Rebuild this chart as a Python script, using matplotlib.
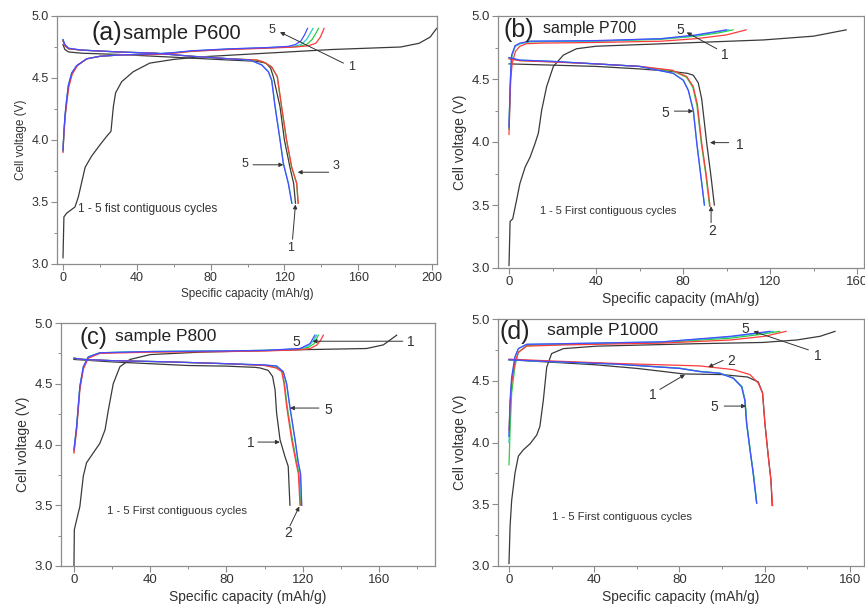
import matplotlib
matplotlib.use("Agg")
import matplotlib.pyplot as plt
from matplotlib.ticker import MultipleLocator

plt.rcParams['font.family'] = ['Liberation Sans', 'DejaVu Sans']

# ---- P600: (capacity mAh/g, voltage V) ----
p600_chg1 = [(0, 3.05), (0.5, 3.38), (2, 3.41), (6.5, 3.46), (8.3, 3.54), (12, 3.78), (15.5, 3.87),
             (20, 3.96), (23.7, 4.03), (26, 4.07), (27.3, 4.27), (28.5, 4.38), (31.8, 4.47), (38, 4.55),
             (47, 4.62), (60, 4.65), (74, 4.67), (110, 4.70), (146, 4.73), (183, 4.75), (193, 4.78),
             (199, 4.83), (202.5, 4.90)]
p600_chg2 = [(0, 3.90), (0.5, 4.05), (1.2, 4.19), (2.2, 4.32), (3.2, 4.43), (5, 4.53), (7.8, 4.60),
             (13, 4.655), (20, 4.675), (30, 4.685), (50, 4.69), (60, 4.70), (70, 4.715), (90, 4.73),
             (110, 4.74), (126, 4.75), (133, 4.76), (137, 4.78), (139.5, 4.83), (141.5, 4.90)]
p600_chg3 = [(0, 3.91), (0.5, 4.06), (1.2, 4.20), (2.1, 4.33), (3, 4.44), (4.8, 4.54), (7.6, 4.60),
             (13, 4.655), (20, 4.675), (30, 4.685), (50, 4.692), (60, 4.702), (70, 4.717), (90, 4.732),
             (110, 4.742), (128, 4.755), (132, 4.77), (135, 4.81), (137, 4.86), (138.5, 4.90)]
p600_chg4 = [(0, 3.91), (0.5, 4.06), (1.1, 4.20), (2, 4.33), (2.9, 4.44), (4.7, 4.54), (7.5, 4.60),
             (13, 4.655), (20, 4.675), (30, 4.685), (50, 4.694), (60, 4.704), (70, 4.718), (90, 4.734),
             (110, 4.744), (125, 4.755), (129, 4.77), (132, 4.81), (134, 4.86), (135.5, 4.90)]
p600_chg5 = [(0, 3.92), (0.5, 4.07), (1.1, 4.20), (2, 4.33), (2.9, 4.44), (4.7, 4.54), (7.4, 4.60),
             (12.8, 4.655), (20, 4.675), (30, 4.685), (50, 4.695), (60, 4.705), (70, 4.72), (90, 4.735),
             (110, 4.745), (122, 4.755), (126, 4.77), (129, 4.80), (131, 4.85), (132.5, 4.90)]
p600_dis1 = [(0, 4.77), (1, 4.73), (3, 4.71), (10, 4.70), (30, 4.69), (50, 4.675), (70, 4.66),
             (90, 4.645), (105, 4.635), (110, 4.62), (112.5, 4.58), (114, 4.51), (117.6, 4.27),
             (120, 4.0), (123, 3.78), (125, 3.65), (126, 3.49)]
p600_dis2 = [(0, 4.80), (1, 4.76), (3, 4.735), (10, 4.725), (30, 4.71), (50, 4.70), (70, 4.675),
             (90, 4.655), (105, 4.645), (108.6, 4.63), (113.1, 4.59), (116.2, 4.51), (118.5, 4.27),
             (121.2, 4.0), (124, 3.78), (126.7, 3.65), (127.5, 3.49)]
p600_dis3 = [(0, 4.80), (1, 4.76), (3, 4.735), (10, 4.725), (30, 4.71), (50, 4.70), (70, 4.675),
             (90, 4.655), (105, 4.645), (108.5, 4.63), (113, 4.59), (116.1, 4.51), (118.4, 4.27),
             (121.1, 4.0), (123.9, 3.78), (126.6, 3.65), (127.4, 3.49)]
p600_dis4 = [(0, 4.81), (1, 4.77), (3, 4.74), (10, 4.725), (30, 4.71), (50, 4.70), (70, 4.675),
             (90, 4.655), (101.5, 4.645), (107.8, 4.605), (111.4, 4.55), (113.2, 4.48), (115, 4.27),
             (117.7, 4.0), (119.5, 3.81), (122.2, 3.65), (124.1, 3.49)]
p600_dis5 = [(0, 4.81), (1, 4.77), (3, 4.74), (10, 4.725), (30, 4.71), (50, 4.70), (70, 4.675),
             (90, 4.655), (101.4, 4.645), (107.7, 4.605), (111.3, 4.55), (113.1, 4.48), (114.9, 4.27),
             (117.6, 4.0), (119.4, 3.81), (122.1, 3.65), (124, 3.49)]

# ---- P700 ----
p700_chg1 = [(0, 3.02), (0.5, 3.37), (1.7, 3.39), (3.5, 3.54), (5, 3.67), (7.4, 3.80), (9.7, 3.88),
             (12, 3.99), (13.5, 4.07), (15, 4.25), (17.3, 4.44), (20.4, 4.60), (25, 4.69), (31, 4.74),
             (40, 4.76), (71, 4.78), (117, 4.81), (140, 4.84), (155, 4.89)]
p700_chg2 = [(0, 4.06), (0.4, 4.30), (0.8, 4.50), (1.5, 4.63), (3, 4.72), (5, 4.76), (8, 4.78),
             (15, 4.785), (40, 4.79), (70, 4.80), (86, 4.82), (100, 4.85), (109, 4.89)]
p700_chg3 = [(0, 4.10), (0.4, 4.35), (0.8, 4.55), (1.3, 4.68), (2.8, 4.76), (5, 4.78), (9.7, 4.795),
             (40, 4.80), (70, 4.815), (86, 4.84), (96, 4.865), (103, 4.89)]
p700_chg4 = [(0, 4.11), (0.4, 4.36), (0.8, 4.56), (1.2, 4.68), (2.8, 4.76), (5, 4.78), (9.7, 4.80),
             (40, 4.80), (70, 4.82), (86, 4.845), (101, 4.89)]
p700_chg5 = [(0, 4.12), (0.4, 4.37), (0.8, 4.57), (1.2, 4.69), (2.8, 4.765), (5, 4.785), (9.7, 4.80),
             (40, 4.805), (70, 4.82), (86, 4.85), (100, 4.89)]
p700_dis1 = [(0, 4.62), (20, 4.61), (40, 4.60), (60, 4.58), (75, 4.56), (82, 4.545), (84.7, 4.53),
             (87, 4.47), (88.6, 4.34), (90.9, 3.99), (92.7, 3.75), (94.4, 3.5)]
p700_dis2 = [(0, 4.66), (5, 4.645), (20, 4.635), (27, 4.63), (40, 4.62), (60, 4.60), (75, 4.57),
             (81.7, 4.52), (84.7, 4.44), (86.6, 4.30), (88.6, 3.99), (90.6, 3.75), (92.4, 3.49)]
p700_dis3 = [(0, 4.665), (5, 4.647), (20, 4.637), (40, 4.62), (60, 4.60), (75, 4.565), (81.5, 4.515),
             (84.5, 4.435), (86.4, 4.29), (88.4, 3.99), (90.4, 3.75), (92.2, 3.49)]
p700_dis4 = [(0, 4.67), (5, 4.65), (20, 4.64), (40, 4.62), (60, 4.60), (75.5, 4.545), (80.2, 4.49),
             (82.5, 4.41), (84.8, 4.25), (86.4, 3.99), (87.9, 3.78), (89.9, 3.5)]
p700_dis5 = [(0, 4.67), (5, 4.65), (20, 4.64), (40, 4.62), (60, 4.60), (75.5, 4.545), (80.1, 4.49),
             (82.4, 4.41), (84.7, 4.25), (86.3, 3.99), (87.8, 3.78), (89.8, 3.5)]

# ---- P800 ----
p800_chg1 = [(0, 3.0), (0.2, 3.30), (1.4, 3.38), (3.1, 3.49), (4.9, 3.74), (6.6, 3.85), (10.1, 3.93),
             (13.6, 4.01), (16.3, 4.12), (18, 4.28), (20.6, 4.50), (24.1, 4.64), (29.4, 4.70), (40, 4.74),
             (66, 4.76), (118.6, 4.78), (153.5, 4.79), (162.3, 4.82), (166.7, 4.87), (169.3, 4.90)]
p800_chg2 = [(0, 3.93), (1.4, 4.12), (3.1, 4.45), (4.9, 4.62), (7.5, 4.71), (13.6, 4.75), (40, 4.76),
             (80, 4.765), (101, 4.77), (118.6, 4.78), (124, 4.79), (127.5, 4.82), (129.5, 4.86), (130.8, 4.90)]
p800_chg3 = [(0, 3.94), (1.4, 4.14), (3.1, 4.47), (4.9, 4.63), (7.5, 4.72), (13.6, 4.755), (40, 4.765),
             (80, 4.77), (101, 4.775), (118, 4.785), (123, 4.80), (126, 4.83), (128.2, 4.90)]
p800_chg4 = [(0, 3.95), (1.4, 4.15), (3.1, 4.48), (4.9, 4.64), (7.5, 4.72), (13.6, 4.755), (40, 4.765),
             (80, 4.77), (101, 4.775), (118, 4.788), (122.8, 4.81), (125.5, 4.85), (127.3, 4.90)]
p800_chg5 = [(0, 3.96), (1.4, 4.15), (3.1, 4.48), (4.9, 4.64), (7.5, 4.72), (13.6, 4.755), (40, 4.765),
             (80, 4.77), (101, 4.775), (118.6, 4.79), (123.8, 4.83), (126.4, 4.90)]
p800_dis1 = [(0, 4.70), (20, 4.68), (40, 4.665), (60, 4.65), (80, 4.645), (95, 4.635), (97.6, 4.63),
             (101.9, 4.61), (104.2, 4.56), (105.5, 4.45), (106.3, 4.26), (108.1, 4.04), (110.7, 3.90),
             (112.4, 3.82), (113.3, 3.5)]
p800_dis2 = [(0, 4.71), (5, 4.70), (20, 4.69), (50, 4.68), (80, 4.665), (100, 4.65), (106, 4.63),
             (109, 4.60), (110.2, 4.50), (111.6, 4.31), (114.2, 4.04), (116.5, 3.85), (117.7, 3.76),
             (118.6, 3.5)]
p800_dis3 = [(0, 4.71), (5, 4.70), (20, 4.69), (50, 4.68), (80, 4.665), (100, 4.652), (106.1, 4.635),
             (109.2, 4.60), (110.5, 4.50), (111.9, 4.31), (114.6, 4.04), (116.9, 3.85), (118.1, 3.76),
             (118.9, 3.5)]
p800_dis4 = [(0, 4.71), (5, 4.70), (20, 4.69), (50, 4.68), (80, 4.665), (100, 4.654), (106.3, 4.645),
             (109.7, 4.60), (111.5, 4.50), (113.2, 4.31), (115.9, 4.04), (117.6, 3.85), (118.8, 3.76),
             (119.4, 3.5)]
p800_dis5 = [(0, 4.71), (5, 4.70), (20, 4.69), (50, 4.68), (80, 4.665), (100, 4.655), (106.3, 4.646),
             (109.8, 4.60), (111.6, 4.50), (113.3, 4.31), (116, 4.04), (117.7, 3.85), (118.9, 3.76),
             (119.5, 3.5)]

# ---- P1000 ----
p1000_chg1 = [(0, 3.02), (0.5, 3.32), (1.25, 3.53), (2.8, 3.75), (4.4, 3.89), (6.7, 3.94), (9.9, 3.99),
              (13, 4.06), (14.5, 4.13), (16.1, 4.34), (17.7, 4.61), (20, 4.72), (25.5, 4.76), (41, 4.78),
              (88, 4.80), (119, 4.81), (135, 4.83), (146, 4.86), (153, 4.90)]
p1000_chg2 = [(0, 4.10), (0.5, 4.30), (1.25, 4.48), (2.8, 4.65), (4.4, 4.73), (8.3, 4.78), (25.5, 4.79),
              (72, 4.805), (104, 4.83), (120, 4.86), (130, 4.90)]
p1000_chg3 = [(0, 3.82), (0.5, 4.10), (1.25, 4.40), (2.8, 4.62), (4.4, 4.73), (8.3, 4.785), (25.5, 4.795),
              (72, 4.81), (104, 4.845), (118, 4.875), (127, 4.90)]
p1000_chg4 = [(0, 4.00), (0.5, 4.30), (1.25, 4.50), (2.8, 4.69), (4.4, 4.76), (8.3, 4.795), (25.5, 4.80),
              (72, 4.815), (104, 4.855), (124, 4.90)]
p1000_chg5 = [(0, 4.05), (0.5, 4.34), (1.25, 4.53), (2.8, 4.695), (4.4, 4.76), (8.3, 4.795), (25.5, 4.80),
              (72, 4.815), (104, 4.86), (122.5, 4.90)]
p1000_dis1 = [(0, 4.67), (20, 4.65), (40, 4.63), (60, 4.60), (70, 4.58), (82, 4.555), (100, 4.55),
              (112, 4.53), (117, 4.49), (119, 4.40), (120.1, 4.155), (121.7, 3.885), (122.9, 3.70),
              (123.5, 3.49)]
p1000_dis2 = [(0, 4.675), (20, 4.66), (50, 4.64), (80, 4.625), (89.6, 4.62), (105.3, 4.59), (113.1, 4.55),
              (117, 4.48), (119, 4.40), (120.1, 4.155), (121.7, 3.885), (122.9, 3.70), (123.7, 3.49)]
p1000_dis3 = [(0, 4.67), (20, 4.656), (50, 4.636), (80, 4.602), (89.6, 4.576), (99, 4.562), (105.3, 4.522),
              (109.3, 4.452), (110.8, 4.342), (111.6, 4.155), (113.2, 3.94), (114.7, 3.75), (116.3, 3.51)]
p1000_dis4 = [(0, 4.67), (20, 4.655), (50, 4.635), (80, 4.601), (89.6, 4.575), (99, 4.561), (105.3, 4.521),
              (109.2, 4.451), (110.7, 4.341), (111.5, 4.155), (113.1, 3.94), (114.6, 3.75), (116.2, 3.51)]
p1000_dis5 = [(0, 4.67), (20, 4.655), (50, 4.635), (80, 4.60), (89.6, 4.574), (99, 4.56), (105.3, 4.52),
              (109.2, 4.45), (110.7, 4.34), (111.5, 4.155), (113.1, 3.94), (114.6, 3.75), (116.2, 3.51)]

cycle_colors = ['#3a3a3a', '#ff3b3b', '#2ecc40', '#22cccc', '#4a4aff']
draw_order = [0, 2, 3, 1, 4]

panels = [
    dict(tag='(a)', name='sample P600', rect=[57, 16, 437, 264], xlim=(-3.25, 202.7), xmax_tick=200,
         curves=[(p600_chg1, p600_dis1), (p600_chg2, p600_dis2), (p600_chg3, p600_dis3),
                 (p600_chg4, p600_dis4), (p600_chg5, p600_dis5)],
         tagpos=(15.5, 4.86), tagsize=18, namepos=(32.5, 4.86), namesize=14.5, lab=8.5, tick=9,
         note='1 - 5 fist contiguous cycles', notepos=(8.3, 3.44), notesize=8.6, marksize=9,
         marks=[('5', (113, 4.89), (117.6, 4.87), None), ('1', (156.5, 4.59), (117.6, 4.87), (152, 4.62)),
                ('5', (98.6, 3.81), (119.4, 3.80), (103, 3.80)), ('3', (148, 3.79), (127.2, 3.74), (144, 3.74)),
                ('1', (123.6, 3.13), (126.0, 3.48), (124.4, 3.20))]),
    dict(tag='(b)', name='sample P700', rect=[498, 16, 864, 268], xlim=(-5.06, 163.2), xmax_tick=160,
         curves=[(p700_chg1, p700_dis1), (p700_chg2, p700_dis2), (p700_chg3, p700_dis3),
                 (p700_chg4, p700_dis4), (p700_chg5, p700_dis5)],
         tagpos=(-2.6, 4.89), tagsize=18, namepos=(15.6, 4.90), namesize=11.5, lab=10, tick=9.5,
         note='1 - 5 First contiguous cycles', notepos=(14.3, 3.45), notesize=7.9, marksize=10,
         marks=[('5', (78.6, 4.89), (81.7, 4.87), None), ('1', (99.3, 4.69), (81.7, 4.87), (95.5, 4.74)),
                ('5', (71.7, 4.23), (84.7, 4.245), (76, 4.245)), ('1', (105.9, 3.98), (92.4, 3.995), (101, 3.995)),
                ('2', (93.6, 3.29), (92.9, 3.49), (92.9, 3.36))]),
    dict(tag='(c)', name='sample P800', rect=[61, 323, 435, 566], xlim=(-6.8, 189.4), xmax_tick=160,
         curves=[(p800_chg1, p800_dis1), (p800_chg2, p800_dis2), (p800_chg3, p800_dis3),
                 (p800_chg4, p800_dis4), (p800_chg5, p800_dis5)],
         tagpos=(3.0, 4.88), tagsize=17, namepos=(21.5, 4.89), namesize=12.5, lab=10, tick=9.5,
         note='1 - 5 First contiguous cycles', notepos=(17.1, 3.455), notesize=8.1, marksize=10,
         marks=[('5', (116.8, 4.84), (125.2, 4.85), None), ('1', (176.6, 4.84), (125.2, 4.85), (172.5, 4.85)),
                ('5', (133.4, 4.28), (113.3, 4.30), (128.5, 4.30)), ('1', (92.7, 4.01), (108, 4.02), (96.5, 4.02)),
                ('2', (112.5, 3.27), (118.2, 3.49), (113.3, 3.33))]),
    dict(tag='(d)', name='sample P1000', rect=[498, 319, 864, 566], xlim=(-5.16, 166.6), xmax_tick=160,
         curves=[(p1000_chg1, p1000_dis1), (p1000_chg2, p1000_dis2), (p1000_chg3, p1000_dis3),
                 (p1000_chg4, p1000_dis4), (p1000_chg5, p1000_dis5)],
         tagpos=(-4.3, 4.895), tagsize=18, namepos=(17.8, 4.91), namesize=12.5, lab=10, tick=9.5,
         note='1 - 5 First contiguous cycles', notepos=(20, 3.40), notesize=8.1, marksize=10,
         marks=[('5', (110.7, 4.92), (114.7, 4.90), None), ('1', (144.7, 4.70), (114.7, 4.90), (140.5, 4.75)),
                ('2', (104.5, 4.66), (93.5, 4.61), (100.5, 4.665)), ('1', (67.4, 4.385), (82.6, 4.55), (70.8, 4.43)),
                ('5', (96.2, 4.285), (111.2, 4.295), (101, 4.295))]),
]

W, H = 865, 609
fig = plt.figure(figsize=(W / 100, H / 100), dpi=100, facecolor='white')
frame = '#8c8c8c'
ink = '#333333'

for p in panels:
    l, t, r, b = p['rect']
    ax = fig.add_axes([l / W, 1 - b / H, (r - l) / W, (b - t) / H])
    for i in draw_order:
        chg, dis = p['curves'][i]
        for seg in (chg, dis):
            ax.plot([q[0] for q in seg], [q[1] for q in seg], color=cycle_colors[i], lw=0.9)

    ax.set_xlim(*p['xlim'])
    ax.set_ylim(3.0, 5.0)
    ax.set_xticks(range(0, p['xmax_tick'] + 1, 40))
    ax.set_yticks([3.0, 3.5, 4.0, 4.5, 5.0])
    ax.xaxis.set_minor_locator(MultipleLocator(20))
    ax.yaxis.set_minor_locator(MultipleLocator(0.25))
    ax.tick_params(which='both', direction='out', color=frame, labelcolor=ink,
                   labelsize=p['tick'], top=False, right=False)
    ax.tick_params(which='major', length=4, width=0.8, pad=2)
    ax.tick_params(which='minor', length=2.5, width=0.7)
    for s in ax.spines.values():
        s.set_color(frame)
        s.set_linewidth(0.9)

    ax.set_xlabel('Specific capacity (mAh/g)', fontsize=p['lab'], color=ink, labelpad=3)
    ax.set_ylabel('Cell voltage (V)', fontsize=p['lab'], color=ink, labelpad=3)

    ax.text(*p['tagpos'], p['tag'], fontsize=p['tagsize'], color='#222222', va='center', ha='left')
    ax.text(*p['namepos'], p['name'], fontsize=p['namesize'], color='#222222', va='center', ha='left')
    ax.text(*p['notepos'], p['note'], fontsize=p['notesize'], color=ink, va='center', ha='left')

    for txt, tpos, head, tail in p['marks']:
        ax.text(*tpos, txt, fontsize=p['marksize'], color=ink, ha='center', va='center')
        if tail is not None:
            ax.annotate('', xy=head, xytext=tail,
                        arrowprops=dict(arrowstyle='-|>', color=ink, lw=0.7,
                                        mutation_scale=6, shrinkA=0, shrinkB=0))

fig.savefig('out.png', dpi=100, facecolor='white')
